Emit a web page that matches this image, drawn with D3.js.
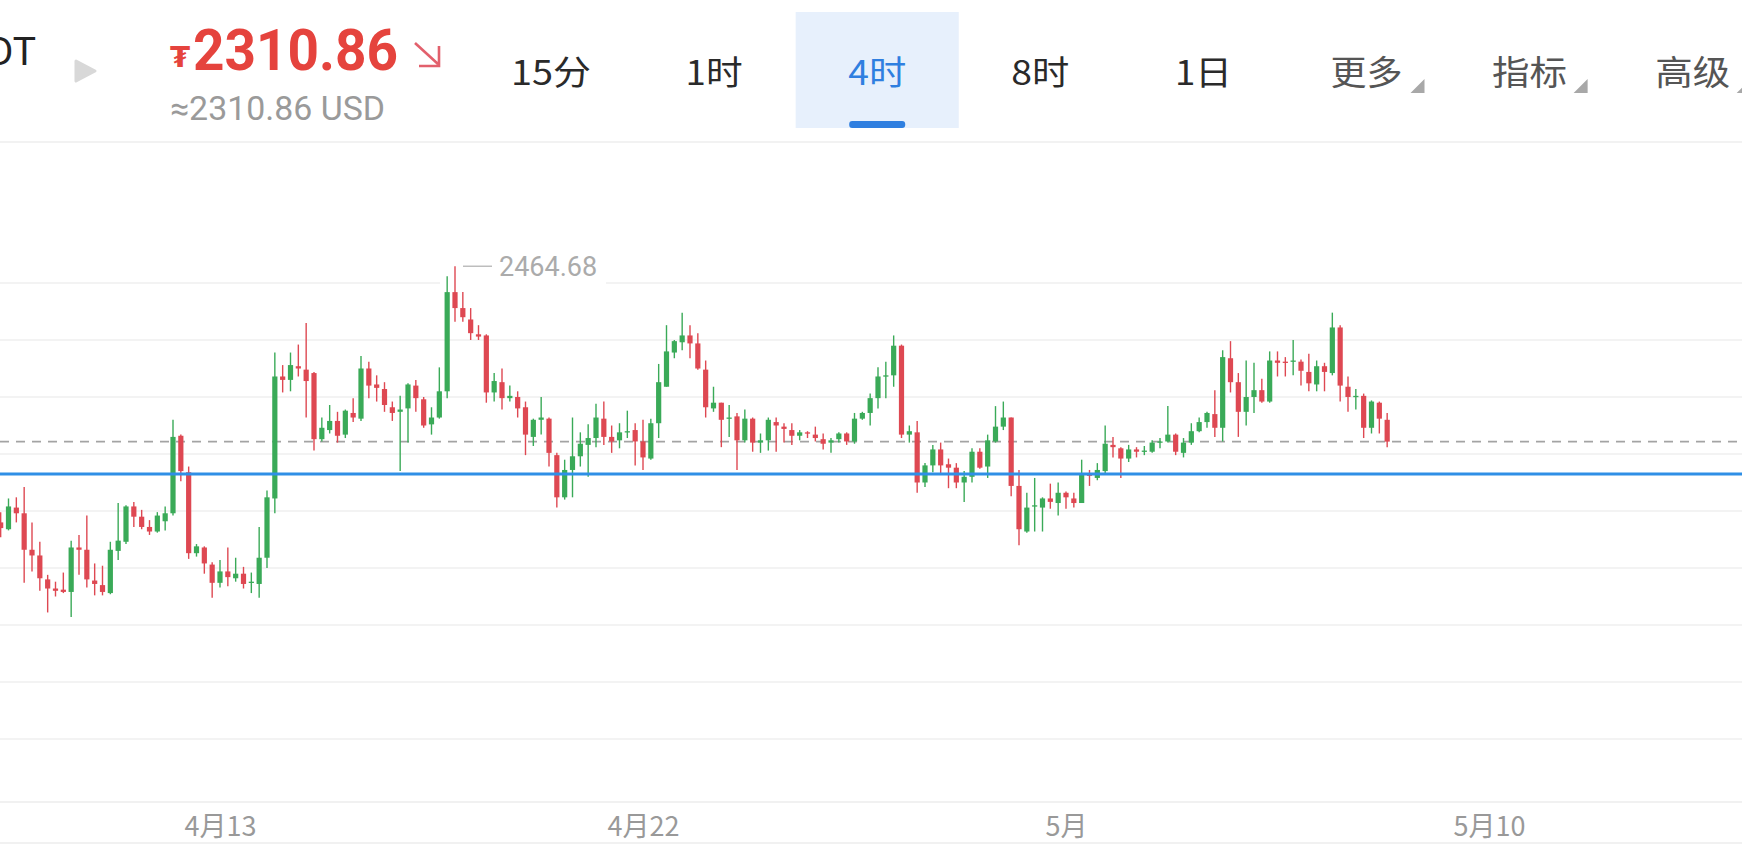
<!DOCTYPE html>
<html><head><meta charset="utf-8">
<script src="https://cdn.jsdelivr.net/npm/d3@7"></script>
<style>html,body{margin:0;padding:0;background:#fff;overflow:hidden}</style>
</head><body>
<svg id="chart" width="1742" height="847"></svg>
<script>
// ---- data (4h candles, ETH/USDT) ----
const open = [
2240,2234,2253,2248,2216,2211,2190,2182,2181,2179,
2218,2216,2189,2185,2178,2215,2223,2254,2245,2236,
2232,2241,2248,2316,2284,2213,2218,2203,2187,2197,
2191,2195,2187,2186,2209,2261,2368,2365,2377,2374,
2371,2313,2321,2329,2317,2336,2331,2375,2361,2357,
2341,2337,2340,2360,2348,2326,2332,2355,2442,2428,
2418,2405,2404,2354,2363,2349,2350,2341,2315,2330,
2331,2299,2262,2286,2298,2308,2314,2331,2315,2312,
2319,2321,2311,2296,2327,2359,2389,2398,2404,2397,
2374,2340,2345,2331,2333,2312,2331,2310,2312,2328,
2324,2321,2316,2319,2317,2313,2310,2313,2318,2311,
2331,2336,2349,2368,2369,2395,2317,2319,2275,2290,
2304,2291,2288,2275,2280,2302,2289,2311,2324,2332,
2272,2232,2254,2253,2261,2257,2266,2261,2257,2282,
2279,2285,2308,2305,2296,2304,2302,2302,2310,2311,
2317,2301,2310,2320,2328,2335,2323,2384,2363,2337,
2350,2356,2346,2382,2381,2381,2381,2372,2361,2377,
2371,2411,2359,2350,2351,2323,2345,2330];
const high = [
2249,2261,2262,2271,2240,2223,2194,2188,2196,2224,
2229,2246,2204,2202,2223,2257,2255,2258,2251,2242,
2249,2254,2330,2317,2289,2221,2219,2205,2207,2218,
2209,2201,2196,2236,2268,2389,2378,2389,2396,2415,
2372,2332,2343,2337,2339,2349,2386,2381,2369,2363,
2346,2351,2362,2365,2350,2341,2376,2456,2464.68,2442,
2428,2413,2405,2371,2375,2360,2355,2346,2331,2350,
2332,2301,2295,2332,2319,2326,2344,2346,2325,2327,
2338,2327,2330,2331,2379,2413,2400,2424,2413,2406,
2382,2359,2345,2343,2336,2339,2332,2318,2332,2332,
2327,2327,2321,2320,2324,2318,2314,2319,2319,2336,
2337,2353,2376,2381,2404,2396,2325,2329,2292,2308,
2310,2296,2292,2285,2305,2305,2317,2342,2346,2332,
2286,2266,2279,2262,2274,2275,2267,2266,2295,2286,
2292,2325,2315,2306,2308,2306,2307,2312,2314,2342,
2318,2314,2327,2332,2337,2356,2391,2399,2371,2382,
2380,2366,2390,2390,2385,2400,2383,2388,2382,2380,
2424,2413,2368,2357,2353,2347,2346,2336];
const low = [
2227,2233,2240,2187,2197,2180,2161,2175,2178,2157,
2194,2183,2176,2176,2177,2207,2221,2236,2234,2229,
2231,2233,2246,2276,2208,2210,2195,2174,2183,2184,
2188,2182,2178,2174,2200,2248,2354,2355,2368,2332,
2303,2311,2318,2310,2314,2328,2329,2349,2346,2337,
2329,2285,2310,2337,2323,2317,2331,2349,2416,2416,
2400,2400,2345,2346,2339,2346,2332,2299,2307,2317,
2289,2253,2260,2262,2289,2280,2306,2308,2301,2305,
2314,2290,2286,2295,2314,2359,2384,2391,2384,2374,
2332,2337,2306,2315,2286,2310,2302,2301,2303,2302,
2310,2308,2312,2314,2311,2304,2301,2310,2308,2309,
2330,2325,2340,2349,2359,2314,2310,2266,2271,2284,
2282,2270,2270,2258,2275,2287,2279,2310,2321,2263,
2220,2231,2232,2232,2252,2246,2252,2253,2257,2272,
2277,2283,2297,2279,2293,2297,2299,2301,2305,2310,
2299,2297,2308,2319,2323,2315,2311,2354,2315,2325,
2336,2345,2345,2368,2368,2369,2360,2355,2355,2355,
2369,2346,2337,2339,2314,2318,2318,2306];
const close = [
2235,2254,2248,2216,2211,2191,2182,2180,2179,2218,
2216,2190,2186,2179,2216,2224,2254,2245,2236,2232,
2246,2248,2315,2285,2213,2219,2204,2187,2197,2192,
2195,2186,2188,2209,2262,2368,2365,2378,2375,2364,
2313,2323,2329,2316,2338,2332,2375,2360,2358,2343,
2336,2339,2361,2349,2325,2332,2355,2442,2428,2420,
2406,2403,2354,2364,2349,2351,2340,2317,2330,2332,
2301,2262,2286,2298,2309,2314,2332,2315,2311,2319,
2320,2311,2297,2327,2363,2390,2399,2404,2397,2375,
2341,2345,2330,2332,2312,2331,2310,2312,2330,2325,
2322,2316,2319,2318,2314,2309,2312,2318,2311,2331,
2336,2349,2368,2369,2395,2317,2320,2275,2290,2304,
2290,2288,2275,2280,2302,2288,2312,2324,2332,2272,
2234,2253,2255,2261,2258,2266,2262,2257,2283,2281,
2286,2309,2306,2296,2304,2302,2303,2310,2311,2317,
2302,2310,2320,2328,2336,2323,2385,2363,2337,2350,
2356,2346,2382,2380,2380,2382,2373,2362,2377,2372,
2411,2360,2350,2351,2323,2346,2331,2310.86];

const firstCandle = new Date(2024, 3, 8, 8, 0);     // 4月8 08:00, 4h interval
const tickDates = [new Date(2024,3,13), new Date(2024,3,22), new Date(2024,4,1), new Date(2024,4,10)];
const tickLabels = ["4月13", "4月22", "5月", "5月10"];
const gridPrices = [2050, 2100, 2150, 2200, 2250, 2300, 2350, 2400, 2450];
const lastPrice = 2310.86;
const linePrice = 2282.5;
const tabs = ["15分", "1时", "4时", "8时", "1日", "更多", "指标", "高级"];
const activeTab = "4时";
const dropdownTabs = ["更多", "指标", "高级"];
const symbol = "ETH/USDT";
const priceText = "2310.86";
const usdText = "≈2310.86 USD";

// ---- layout ----
const W = 1742, H = 847;
const svg = d3.select("#chart");
const UP = "#3aaa58", DOWN = "#de4852";
const CJK = "'Noto Sans CJK SC','Noto Sans',sans-serif";

const x = d3.scaleTime()
  .domain([tickDates[0], tickDates[3]])
  .range([220, 1489]);
const y = d3.scaleLinear().domain([2050, 2450]).range([739, 283]);
const t = i => d3.timeHour.offset(firstCandle, 4 * i);

// header
const hdr = svg.append("g");
hdr.append("text").attr("x", 36).attr("y", 65).attr("text-anchor", "end")
  .attr("font-family", "Roboto, sans-serif").attr("font-size", 39).attr("fill", "#222").text(symbol);
hdr.append("path").attr("d", "M76,61 L95,71 L76,81 Z").attr("fill", "#d8d8d8")
  .attr("stroke", "#d8d8d8").attr("stroke-width", 3).attr("stroke-linejoin", "round");
hdr.append("text").attr("x", 170).attr("y", 67)
  .attr("font-family", "'DejaVu Sans', sans-serif").attr("font-weight", "bold")
  .attr("font-size", 29).attr("fill", "#e5433d").text("₮");
hdr.append("text").attr("x", 193).attr("y", 70)
  .attr("font-family", "Roboto, sans-serif").attr("font-weight", "bold")
  .attr("font-size", 57).attr("fill", "#e5433d")
  .attr("textLength", 205).attr("lengthAdjust", "spacingAndGlyphs").text(priceText);
hdr.append("path").attr("d", "M415,43 L438,64 M439,46 L439,66 L419,66")
  .attr("fill", "none").attr("stroke", "#e2606c").attr("stroke-width", 2.6);
hdr.append("text").attr("x", 170).attr("y", 120)
  .attr("font-family", "Roboto, sans-serif").attr("font-size", 33).attr("fill", "#9a9a9a")
  .attr("textLength", 215).attr("lengthAdjust", "spacingAndGlyphs").text(usdText);

// tabs
const tabW = 163.1, tab0 = 551;
const tabLen = {"15分": 80, "1时": 57, "4时": 58, "8时": 58, "1日": 57, "更多": 72, "指标": 75, "高级": 75};
tabs.forEach((name, i) => {
  const cx = tab0 + tabW * i;
  const active = name === activeTab;
  if (active) {
    hdr.append("rect").attr("x", cx - tabW / 2).attr("y", 12).attr("width", tabW).attr("height", 116).attr("fill", "#e7f0fc");
    hdr.append("rect").attr("x", cx - 28).attr("y", 121).attr("width", 56).attr("height", 7).attr("rx", 3).attr("fill", "#2f7fe0");
  }
  const dd = dropdownTabs.includes(name);
  hdr.append("text").attr("x", cx).attr("y", 85).attr("text-anchor", "middle")
    .attr("font-family", CJK).attr("font-size", 34)
    .attr("textLength", tabLen[name]).attr("lengthAdjust", "spacingAndGlyphs")
    .attr("fill", active ? "#2f7fe0" : (dd ? "#555" : "#2a2a2a")).text(name);
  if (dd) {
    hdr.append("path").attr("d", `M${cx+58},79 L${cx+58},93 L${cx+44},93 Z`).attr("fill", "#a8a8a8");
  }
});
svg.append("line").attr("x1", 0).attr("x2", W).attr("y1", 142).attr("y2", 142).attr("stroke", "#eeeeee").attr("stroke-width", 1.5);

// grid
svg.append("g").selectAll("line").data(gridPrices).join("line")
  .attr("x1", 0).attr("x2", W).attr("y1", d => y(d)).attr("y2", d => y(d))
  .attr("stroke", "#efefef").attr("stroke-width", 1.5);

// axis borders
svg.append("line").attr("x1", 0).attr("x2", W).attr("y1", 802).attr("y2", 802).attr("stroke", "#ededed").attr("stroke-width", 1.5);
svg.append("line").attr("x1", 0).attr("x2", W).attr("y1", 843).attr("y2", 843).attr("stroke", "#ededed").attr("stroke-width", 1.5);

// x axis
const gx = svg.append("g").attr("transform", "translate(0,836)")
  .call(d3.axisBottom(x).tickValues(tickDates).tickFormat((d, i) => tickLabels[i]).tickSize(0).tickPadding(0));
gx.select(".domain").remove();
gx.selectAll("text").attr("y", 0).attr("dy", 0).attr("font-family", CJK).attr("font-size", 27).attr("fill", "#999");

// max label background
const maxIdx = d3.maxIndex(high);
const mx = x(t(maxIdx)), my = y(high[maxIdx]);
svg.append("rect").attr("x", mx - 15).attr("y", my - 12).attr("width", 166).attr("height", 34).attr("fill", "#fff");

// price lines
svg.append("line").attr("x1", 0).attr("x2", W).attr("y1", y(lastPrice)).attr("y2", y(lastPrice))
  .attr("stroke", "#a3a3a3").attr("stroke-width", 1.6).attr("stroke-dasharray", "9,7");

// candles
const bw = 5.2;
const cg = svg.append("g").selectAll("g").data(d3.range(open.length)).join("g");
const col = i => close[i] >= open[i] ? UP : DOWN;
cg.append("line")
  .attr("x1", i => x(t(i))).attr("x2", i => x(t(i)))
  .attr("y1", i => y(high[i])).attr("y2", i => y(low[i]))
  .attr("stroke", col).attr("stroke-width", 1.4);
cg.append("rect")
  .attr("x", i => x(t(i)) - bw / 2)
  .attr("y", i => y(Math.max(open[i], close[i])))
  .attr("width", bw)
  .attr("height", i => Math.max(1.3, Math.abs(y(open[i]) - y(close[i]))))
  .attr("fill", col);

// blue line on top
svg.append("line").attr("x1", 0).attr("x2", W).attr("y1", y(linePrice)).attr("y2", y(linePrice))
  .attr("stroke", "#2f8fe6").attr("stroke-width", 3);

// max label
svg.append("line").attr("x1", mx + 8).attr("x2", mx + 37).attr("y1", my).attr("y2", my)
  .attr("stroke", "#bdbdbd").attr("stroke-width", 1.5);
svg.append("text").attr("x", mx + 44).attr("y", my + 10)
  .attr("font-family", "Roboto, sans-serif").attr("font-size", 27).attr("fill", "#ababab")
  .text(high[maxIdx].toFixed(2));
</script>
</body></html>
